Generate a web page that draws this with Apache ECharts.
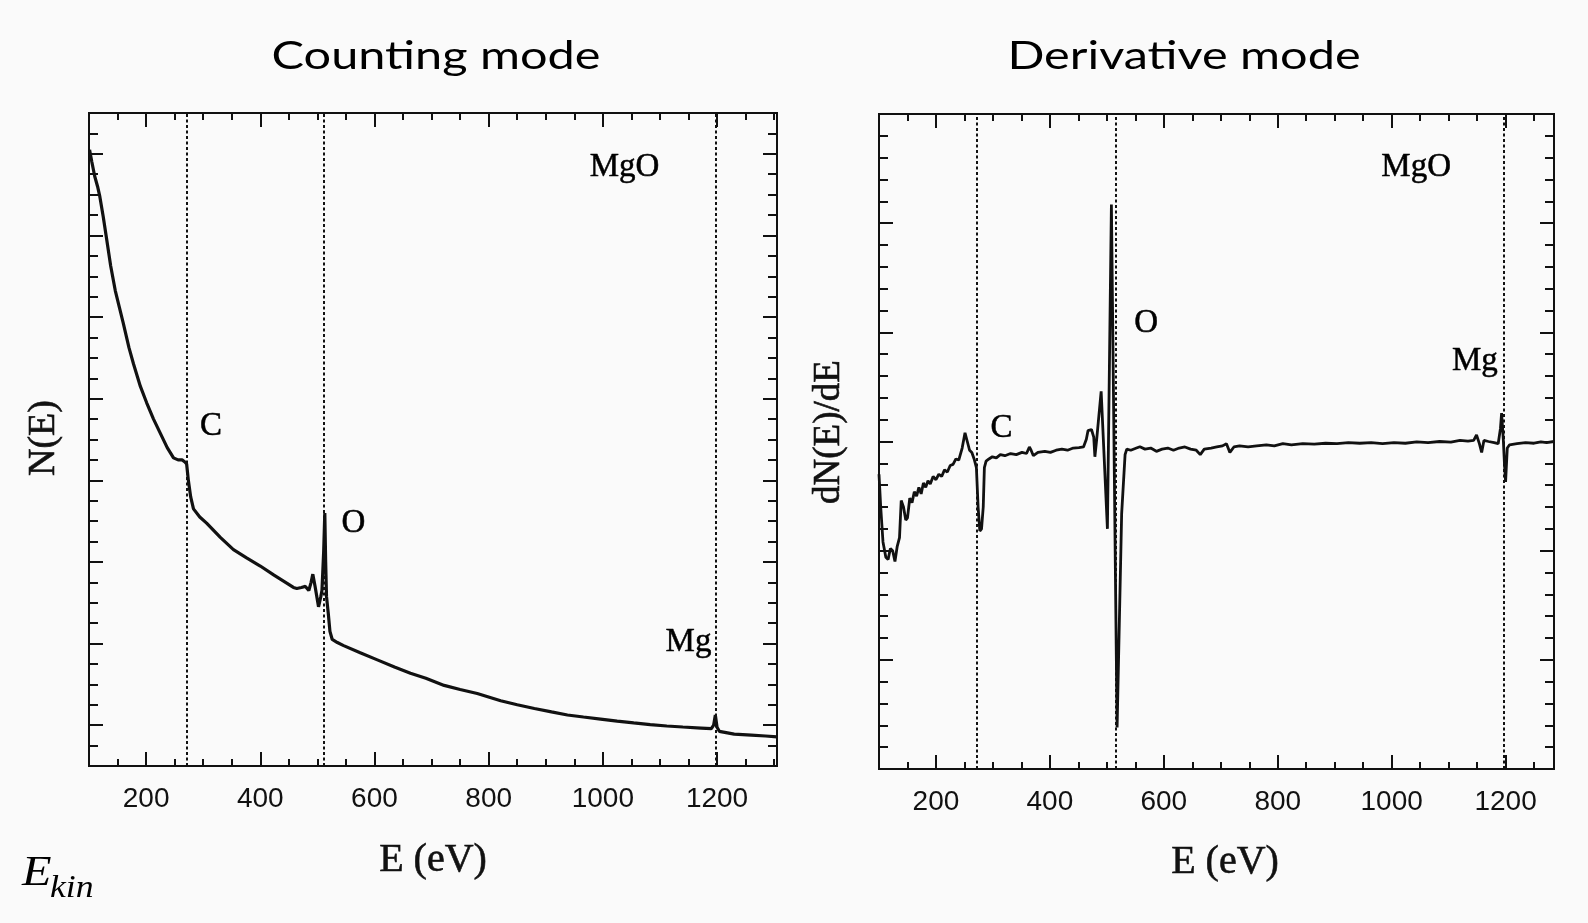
<!DOCTYPE html>
<html><head><meta charset="utf-8">
<script src="https://cdn.jsdelivr.net/npm/echarts@6/dist/echarts.min.js"></script>
<style>html,body{margin:0;padding:0;background:#fafafa}#c{width:1588px;height:923px}</style>
</head><body><div id="c"></div>
<script>
// ---------- data ----------
const energyMajorTicks = [200, 400, 600, 800, 1000, 1200];
const countingMajorY = [0, 4, 8, 12, 16, 20, 24, 28];
const derivMajorY = [-10, -5, 0, 5, 10];

// Counting mode N(E)
const countingEnergy = [101,105,110,115,119,125,131,138,146,153,160,170,178,190,201,213,225,237,248,256,263,268,271,274,278,283,294,306,330,353,376,400,424,447,458,464,472,479,485,489,492,496,502,506,508,511,513,514.5,516,519,522,526,535,546,575,605,635,663,690,722,750,780,821,850,880,910,938,966,996,1025,1054,1083,1112,1140,1172,1190,1194,1197,1200,1204,1207,1230,1260,1285,1305];
const countingIntensity = [28.2,27.6,26.9,26.4,25.9,24.9,23.8,22.5,21.3,20.5,19.7,18.5,17.7,16.6,15.8,15.0,14.3,13.6,13.1,13.0,13.0,12.9,12.8,12.0,11.2,10.6,10.2,9.9,9.2,8.6,8.2,7.8,7.35,6.95,6.75,6.7,6.75,6.8,6.6,7.0,7.4,6.8,5.8,6.3,6.6,8.5,10.4,8.0,6.3,5.5,4.6,4.2,4.05,3.9,3.55,3.2,2.85,2.55,2.3,1.95,1.75,1.55,1.2,1.0,0.82,0.65,0.5,0.4,0.3,0.2,0.11,0.03,-0.04,-0.09,-0.14,-0.17,0.0,0.5,-0.1,-0.3,-0.38,-0.44,-0.49,-0.53,-0.57];

// Derivative mode dN(E)/dE
const derivEnergy = [100,103,107,112,116,120,124,128,132,136,139,143,147,150,154,158,162,166,170,174,178,182,186,190,195,200,205,210,215,220,225,230,235,240,246,251,255,259,263,267,271,274,277,280,283,285,288,293,299,306,313,321,331,341,351,359,364,367,371,379,391,401,411,421,431,441,451,459,464,467,473,477,479,482,490,501,508,518,526,532,535,542,552,558,567,577,587,597,607,617,627,637,647,657,664,671,683,693,703,710,716,723,733,748,763,780,794,809,824,844,864,884,904,924,944,964,984,1004,1024,1044,1064,1084,1104,1120,1134,1144,1149,1154,1158,1162,1170,1180,1187,1191,1193,1196,1198,1200,1203,1207,1220,1235,1250,1262,1272,1285];
const derivValue = [-1.5,-3.0,-4.6,-5.3,-5.4,-4.9,-5.0,-5.5,-4.8,-4.4,-2.7,-3.0,-3.6,-3.5,-2.6,-2.8,-2.3,-2.5,-2.1,-2.4,-1.9,-2.1,-1.8,-1.95,-1.6,-1.75,-1.5,-1.6,-1.3,-1.4,-1.1,-1.05,-0.8,-0.85,-0.3,0.4,0.0,-0.4,-0.5,-0.8,-1.2,-3.0,-4.1,-4.0,-3.0,-1.2,-0.9,-0.8,-0.7,-0.75,-0.6,-0.65,-0.55,-0.6,-0.5,-0.55,-0.25,-0.4,-0.65,-0.5,-0.45,-0.5,-0.4,-0.35,-0.4,-0.3,-0.28,-0.25,0.1,0.5,0.55,0.2,-0.7,0.05,2.3,-4.0,10.85,-13.1,-3.3,-0.6,-0.35,-0.4,-0.3,-0.24,-0.35,-0.3,-0.45,-0.35,-0.3,-0.4,-0.3,-0.25,-0.35,-0.4,-0.6,-0.35,-0.3,-0.25,-0.2,-0.1,-0.5,-0.25,-0.2,-0.25,-0.2,-0.15,-0.2,-0.1,-0.15,-0.1,-0.12,-0.08,-0.1,-0.05,-0.08,-0.05,-0.1,-0.05,-0.08,-0.02,-0.05,0.0,-0.03,0.05,0.02,0.05,0.3,-0.1,-0.5,0.05,0.0,-0.05,-0.1,0.6,1.3,0.1,-1.0,-1.85,-0.3,-0.15,-0.1,-0.05,-0.08,-0.02,-0.05,0.0];

// element edges (dotted verticals)
const countingEdges = [272, 512, 1197];
const derivEdges = [271.5, 516, 1197];

// annotations
const countingLabelText = ['MgO', 'C', 'O', 'Mg'];
const countingLabelE = [1038, 313.5, 563, 1150];
const countingLabelY = [27.35, 14.65, 9.9, 4.05];
const derivLabelText = ['MgO', 'O', 'C', 'Mg'];
const derivLabelE = [1043, 569, 315, 1146];
const derivLabelY = [12.55, 5.4, 0.62, 3.65];

// ---------- chart ----------
const INK = '#111';
const serif = '"Liberation Serif", "Times New Roman", serif';
const sans = '"Liberation Sans", Arial, sans-serif';

function xAxesFor(grid, min, max) {
  const base = { type: 'value', gridIndex: grid, min: min, max: max, splitLine: { show: false }, axisLine: { show: false, onZero: false } };
  return [
    Object.assign({}, base, { position: 'bottom',
      axisTick: { inside: true, length: 14, lineStyle: { color: INK, width: 2 }, customValues: energyMajorTicks },
      axisLabel: { customValues: energyMajorTicks, color: INK, fontFamily: sans, fontSize: 28, margin: 19, formatter: v => String(v) } }),
    Object.assign({}, base, { position: 'bottom', interval: 50,
      axisTick: { inside: true, length: 7, lineStyle: { color: INK, width: 2 } }, axisLabel: { show: false } }),
    Object.assign({}, base, { position: 'top',
      axisTick: { inside: true, length: 14, lineStyle: { color: INK, width: 2 }, customValues: energyMajorTicks },
      axisLabel: { show: false } }),
    Object.assign({}, base, { position: 'top', interval: 50,
      axisTick: { inside: true, length: 7, lineStyle: { color: INK, width: 2 } }, axisLabel: { show: false } })
  ];
}
function yAxesFor(grid, min, max, majors) {
  const base = { type: 'value', gridIndex: grid, min: min, max: max, splitLine: { show: false }, axisLine: { show: false, onZero: false }, axisLabel: { show: false } };
  return [
    Object.assign({}, base, { position: 'left',
      axisTick: { inside: true, length: 14, lineStyle: { color: INK, width: 2 }, customValues: majors } }),
    Object.assign({}, base, { position: 'left', interval: 1,
      axisTick: { inside: true, length: 9, lineStyle: { color: INK, width: 2 } } }),
    Object.assign({}, base, { position: 'right',
      axisTick: { inside: true, length: 14, lineStyle: { color: INK, width: 2 }, customValues: majors } }),
    Object.assign({}, base, { position: 'right', interval: 1,
      axisTick: { inside: true, length: 9, lineStyle: { color: INK, width: 2 } } })
  ];
}
function edgeLines(edges) {
  return {
    silent: true, symbol: 'none', label: { show: false },
    lineStyle: { color: '#111', width: 2, type: [3, 2.5], opacity: 1 },
    emphasis: { disabled: true },
    data: edges.map(v => ({ xAxis: v }))
  };
}
function labelSeries(xi, yi, texts, es, ys) {
  return {
    type: 'scatter', xAxisIndex: xi, yAxisIndex: yi, symbolSize: 1, silent: true,
    itemStyle: { color: 'rgba(0,0,0,0)' },
    emphasis: { disabled: true },
    label: { show: true, position: 'inside', color: '#000', opacity: 1, fontFamily: serif, fontSize: 33,
      textBorderColor: '#000', textBorderWidth: 0.5,
      formatter: p => texts[p.dataIndex] },
    data: es.map((e, i) => [e, ys[i]])
  };
}
const titleFont = '38px Lato, "Open Sans", sans-serif';
const nameStyle = (t, size) => ({ text: t, fill: INK, stroke: INK, lineWidth: 0.6, font: size + 'px ' + serif, textAlign: 'center', textVerticalAlign: 'middle' });

const option = {
  backgroundColor: '#fafafa',
  animation: false,
  grid: [
    { left: 89, top: 113, width: 688, height: 653, show: true, borderColor: INK, borderWidth: 2, backgroundColor: 'transparent', outerBoundsMode: 'none' },
    { left: 879, top: 114, width: 675, height: 655, show: true, borderColor: INK, borderWidth: 2, backgroundColor: 'transparent', outerBoundsMode: 'none' }
  ],
  xAxis: xAxesFor(0, 100, 1305).concat(xAxesFor(1, 100, 1285)),
  yAxis: yAxesFor(0, -2, 30, countingMajorY).concat(yAxesFor(1, -15, 15, derivMajorY)),
  series: [
    { type: 'line', xAxisIndex: 0, yAxisIndex: 0, symbol: 'none', silent: true,
      lineStyle: { color: INK, width: 3.2 },
      data: countingEnergy.map((e, i) => [e, countingIntensity[i]]),
      markLine: edgeLines(countingEdges) },
    { type: 'line', xAxisIndex: 4, yAxisIndex: 4, symbol: 'none', silent: true,
      lineStyle: { color: INK, width: 2.8 },
      data: derivEnergy.map((e, i) => [e, derivValue[i]]),
      markLine: edgeLines(derivEdges) },
    labelSeries(0, 0, countingLabelText, countingLabelE, countingLabelY),
    labelSeries(4, 4, derivLabelText, derivLabelE, derivLabelY)
  ],
  graphic: [
    { type: 'text', x: 436, y: 57, scaleX: 1.28, style: { text: 'Counting mode', fill: '#000', font: titleFont, textAlign: 'center', textVerticalAlign: 'middle' } },
    { type: 'text', x: 1184, y: 57, scaleX: 1.28, style: { text: 'Derivative mode', fill: '#000', font: titleFont, textAlign: 'center', textVerticalAlign: 'middle' } },
    { type: 'text', x: 44, y: 438, rotation: Math.PI / 2, style: nameStyle('N(E)', 38) },
    { type: 'text', x: 829, y: 432, rotation: Math.PI / 2, style: nameStyle('dN(E)/dE', 37) },
    { type: 'text', x: 433, y: 860, style: nameStyle('E (eV)', 40) },
    { type: 'text', x: 1225, y: 862, style: nameStyle('E (eV)', 40) },
    { type: 'text', x: 22, y: 874, scaleX: 1.15, style: { text: 'E', fill: '#000', font: 'italic 42px ' + serif, textAlign: 'left', textVerticalAlign: 'middle' } },
    { type: 'text', x: 50, y: 889, scaleX: 1.15, style: { text: 'kin', fill: '#000', font: 'italic 31px ' + serif, textAlign: 'left', textVerticalAlign: 'middle' } }
  ]
};
const chart = echarts.init(document.getElementById('c'), null, { renderer: 'canvas' });
chart.setOption(option);
</script>
</body></html>
